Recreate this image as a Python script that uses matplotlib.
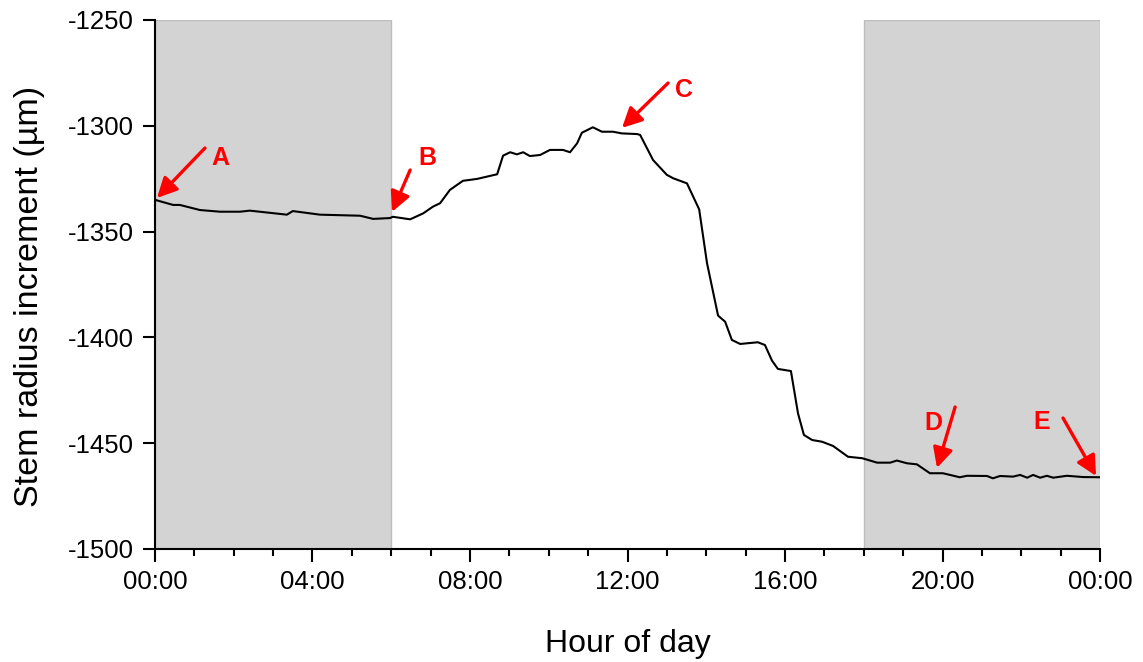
import matplotlib.pyplot as plt
import numpy as np

plt.rcParams['font.family'] = ['Liberation Sans', 'DejaVu Sans']
plt.rcParams['axes.unicode_minus'] = False

# ---------------- data ----------------
hours = [0.0, 0.46, 0.63, 1.14, 1.65, 2.16, 2.41, 3.35, 3.50, 4.19, 5.21, 5.54, 5.97,
         6.04, 6.48, 6.81, 7.06, 7.24, 7.49, 7.82, 8.18, 8.69, 8.84, 9.02, 9.19, 9.35,
         9.52, 9.78, 10.03, 10.36, 10.54, 10.72, 10.84, 11.12, 11.35, 11.63, 11.86,
         12.24, 12.32, 12.65, 13.00, 13.16, 13.51, 13.82, 14.02, 14.30, 14.48, 14.65,
         14.86, 15.31, 15.49, 15.67, 15.82, 16.15, 16.33, 16.48, 16.69, 16.94, 17.22,
         17.60, 17.96, 18.34, 18.67, 18.84, 19.10, 19.35, 19.68, 20.01, 20.44, 20.62,
         21.13, 21.28, 21.46, 21.79, 21.97, 22.15, 22.30, 22.48, 22.65, 22.81, 23.16,
         23.57, 24.0]
radius = [-1335.0, -1337.4, -1337.4, -1339.8, -1340.6, -1340.6, -1340.1, -1342.0,
          -1340.3, -1342.0, -1342.5, -1344.0, -1343.6, -1343.0, -1344.2, -1341.4,
          -1338.2, -1336.6, -1330.3, -1326.0, -1325.1, -1322.9, -1314.1, -1312.5,
          -1313.5, -1312.5, -1314.3, -1313.8, -1311.4, -1311.4, -1312.5, -1308.3,
          -1303.3, -1300.7, -1302.8, -1302.8, -1303.6, -1303.9, -1304.3, -1316.2,
          -1323.2, -1324.8, -1327.2, -1339.5, -1365.0, -1389.7, -1392.6, -1401.2,
          -1403.1, -1402.3, -1403.6, -1411.0, -1414.9, -1415.9, -1435.9, -1446.1,
          -1448.5, -1449.3, -1451.3, -1456.4, -1457.1, -1459.2, -1459.2, -1458.2,
          -1459.5, -1460.0, -1464.2, -1464.2, -1466.1, -1465.4, -1465.5, -1466.6,
          -1465.5, -1465.8, -1465.0, -1466.3, -1465.0, -1466.3, -1465.4, -1466.3,
          -1465.4, -1466.0, -1466.1]

night_periods = [(0, 6), (18, 24)]

x_ticks = [0, 4, 8, 12, 16, 20, 24]
x_tick_labels = ['00:00', '04:00', '08:00', '12:00', '16:00', '20:00', '00:00']
y_ticks = [-1500, -1450, -1400, -1350, -1300, -1250]

# label, text position, arrow tail, arrow head
marks = ['A', 'B', 'C', 'D', 'E']
mark_text = [(1.65, -1315.2), (6.93, -1315.2), (13.43, -1283.0), (19.76, -1440.5), (22.53, -1440.0)]
arrow_tail = [(1.27, -1310.5), (6.48, -1320.9), (13.03, -1279.8), (20.32, -1432.9), (23.06, -1438.1)]
arrow_head = [(0.05, -1334.1), (6.02, -1340.7), (11.86, -1301.0), (19.86, -1461.7), (23.90, -1465.5)]

# ---------------- figure ----------------
fig = plt.figure(figsize=(11.43, 6.62), dpi=100)
ax = fig.add_axes([0.1356, 0.1707, 0.9624 - 0.1356, 0.9698 - 0.1707])

for start, end in night_periods:
    ax.axvspan(start, end, facecolor='#d3d3d3', edgecolor='#bdbdbd', linewidth=1, zorder=0)

ax.plot(hours, radius, color='black', linewidth=1.5, zorder=3)

for lab, tp, tail, head in zip(marks, mark_text, arrow_tail, arrow_head):
    ax.annotate('', xy=head, xytext=tail,
                arrowprops=dict(arrowstyle='-|>', color='#ff0000', lw=2.4,
                                mutation_scale=30, shrinkA=0, shrinkB=0), zorder=4)
    ax.text(tp[0], tp[1], lab, color='#ff0000', fontsize=18, fontweight='bold',
            ha='center', va='center', zorder=4)

ax.set_xlim(0, 24)
ax.set_ylim(-1500, -1250)
ax.set_xticks(x_ticks)
ax.set_xticklabels(x_tick_labels)
ax.set_xticks(np.arange(0, 25, 1), minor=True)
ax.set_yticks(y_ticks)

ax.spines['top'].set_visible(False)
ax.spines['right'].set_visible(False)
ax.spines['left'].set_linewidth(1.5)
ax.spines['bottom'].set_linewidth(1.5)

ax.tick_params(axis='both', which='major', direction='out', length=9, width=1.5,
               labelsize=18.5, pad=6)
ax.tick_params(axis='x', which='minor', direction='out', length=5, width=1.5)

ax.set_xlabel('Hour of day', fontsize=23, labelpad=25)
ax.set_ylabel('Stem radius increment (\u00b5m)', fontsize=24.5, labelpad=17)
ax.yaxis.label.set_y(0.478)

plt.savefig('out.png', dpi=100)
